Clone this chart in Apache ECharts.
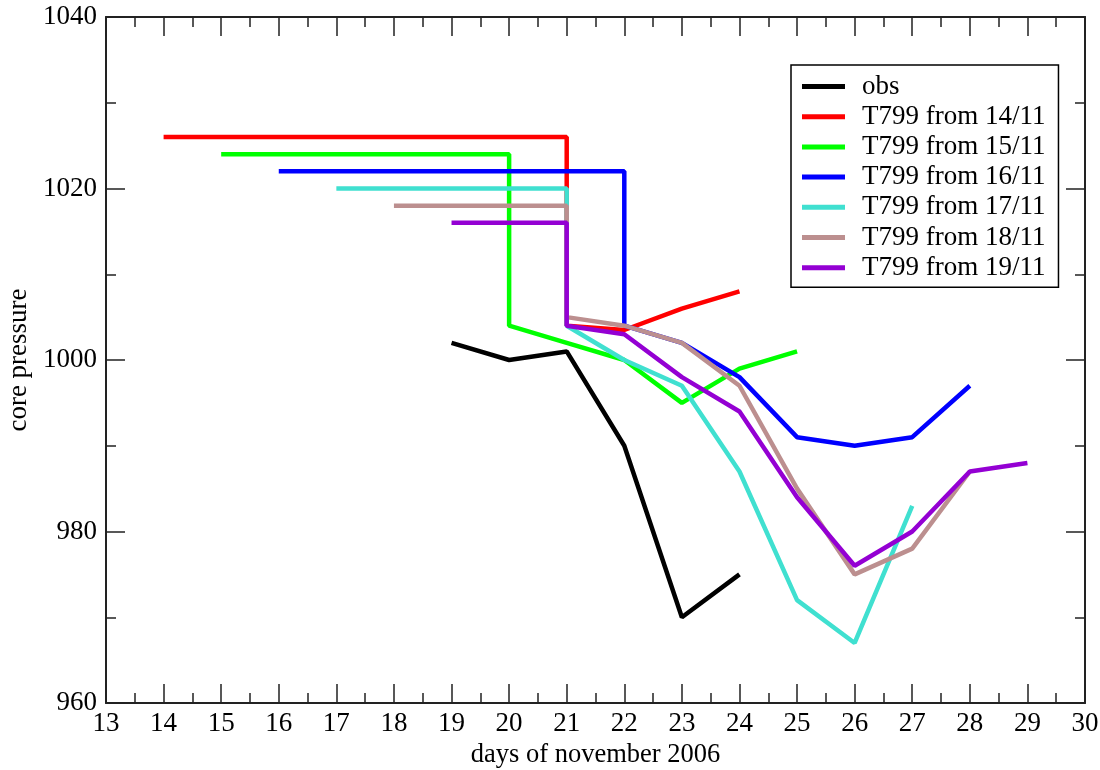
<!DOCTYPE html>
<html>
<head>
<meta charset="utf-8">
<script src="https://cdn.jsdelivr.net/npm/echarts@6/dist/echarts.min.js"></script>
<style>html,body{margin:0;padding:0;background:#fff}#c{width:1100px;height:770px}</style>
</head>
<body>
<div id="c"></div>
<script>
// ---- data ----
var seriesNames = ['obs','T799 from 14/11','T799 from 15/11','T799 from 16/11','T799 from 17/11','T799 from 18/11','T799 from 19/11'];
var obsDays = [19,20,21,22,23,24];
var obsP    = [1002,1000,1001,990,970,975];
var f14Days = [14,21,21,22,23,24];
var f14P    = [1026,1026,1004,1003.5,1006,1008];
var f15Days = [15,20,20,21,22,23,24,25];
var f15P    = [1024,1024,1004,1002,1000,995,999,1001];
var f16Days = [16,22,22,23,24,25,26,27,28];
var f16P    = [1022,1022,1004,1002,998,991,990,991,997];
var f17Days = [17,21,21,22,23,24,25,26,27];
var f17P    = [1020,1020,1004,1000,997,987,972,967,983];
var f18Days = [18,21,21,22,23,24,25,26,27,28];
var f18P    = [1018,1018,1005,1004,1002,997,985,975,978,987];
var f19Days = [19,21,21,22,23,24,25,26,27,28,29];
var f19P    = [1016,1016,1004,1003,998,994,984,976,980,987,988];
var xTicks = [13,14,15,16,17,18,19,20,21,22,23,24,25,26,27,28,29,30];
var yTicks = [960,980,1000,1020,1040];

var colors = ['#000000','#ff0000','#00ff00','#0000ff','#40e0d0','#bc8f8f','#9400d3'];
var allDays = [obsDays,f14Days,f15Days,f16Days,f17Days,f18Days,f19Days];
var allP = [obsP,f14P,f15P,f16P,f17P,f18P,f19P];

function pairs(d,p){return d.map(function(x,i){return [x,p[i]];});}

var FONT = 'Liberation Serif, Times New Roman, serif';
var axisCommon = function(show, margin){
  return {
    axisLine:{show:true,lineStyle:{color:'#222',width:2}},
    axisTick:{show:true,inside:true,length:19,lineStyle:{color:'#222',width:1.5}},
    minorTick:{show:true,splitNumber:2,length:10,lineStyle:{color:'#222',width:1.5}},
    splitLine:{show:false},
    axisLabel:{show:show,color:'#000',fontFamily:FONT,fontSize:27,margin:margin,
      formatter:function(v){return String(v);}}
  };
};

var option = {
  animation:false,
  backgroundColor:'#fff',
  grid:{left:106,right:15,top:17,bottom:67,containLabel:false,outerBoundsMode:'none'},
  xAxis:[
    Object.assign({type:'value',min:xTicks[0],max:xTicks[xTicks.length-1],interval:1,position:'bottom',
      name:'days of november 2006',nameLocation:'middle',nameGap:34,
      nameTextStyle:{color:'#000',fontFamily:FONT,fontSize:26.5}},axisCommon(true,7)),
    Object.assign({type:'value',min:xTicks[0],max:xTicks[xTicks.length-1],interval:1,position:'top'},axisCommon(false,8))
  ],
  yAxis:[
    Object.assign({type:'value',min:yTicks[0],max:yTicks[yTicks.length-1],interval:20,position:'left',
      name:'core pressure',nameLocation:'middle',nameGap:64,nameRotate:90,
      nameTextStyle:{color:'#000',fontFamily:FONT,fontSize:27}},axisCommon(true,9)),
    Object.assign({type:'value',min:yTicks[0],max:yTicks[yTicks.length-1],interval:20,position:'right'},axisCommon(false,8))
  ],
  legend:{
    orient:'vertical',left:791,top:65,
    backgroundColor:'#fff',borderColor:'#000',borderWidth:1.5,
    padding:[8,13,6,11],
    itemWidth:43,itemHeight:5,itemGap:3.2,icon:'rect',
    textStyle:{color:'#000',fontFamily:FONT,fontSize:27,lineHeight:27,padding:[0,0,0,12]},
    data:seriesNames
  },
  series: seriesNames.map(function(n,i){
    return {name:n,type:'line',xAxisIndex:0,yAxisIndex:0,
      data:pairs(allDays[i],allP[i]),showSymbol:false,symbol:'none',
      lineStyle:{color:colors[i],width:4.5},itemStyle:{color:colors[i]},z:2+i};
  })
};
var chart = echarts.init(document.getElementById('c'),null,{renderer:'canvas'});
chart.setOption(option);
</script>
</body>
</html>
